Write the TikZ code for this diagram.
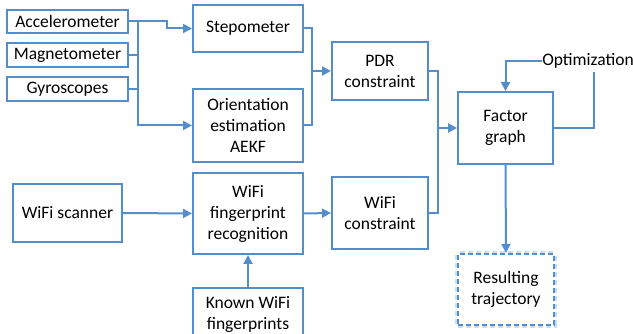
\documentclass[tikz,border=0pt]{standalone}
\usepackage{fontspec}
\setmainfont{Carlito}
\usetikzlibrary{arrows.meta}
\definecolor{boxblue}{RGB}{83,141,204}
\tikzset{
  block/.style={draw=boxblue, line width=2pt, fill=white, align=center,
    inner sep=0pt, font=\fontsize{17.5}{21}\selectfont},
  link/.style={draw=boxblue, line width=2pt},
  arr/.style={link, -{Triangle[length=9pt,width=9pt]}},
  glow/.style={preaction={draw=boxblue!30, line width=6pt}}
}
\begin{document}
\begin{tikzpicture}[x=1pt,y=-1pt]
      \clip (0,0) rectangle (633,334);
      \node[block, minimum width=121pt, minimum height=23pt] (acc) at (67.5,21.5) {Accelerometer};
      \node[block, minimum width=121pt, minimum height=24pt] (mag) at (67.5,55) {Magnetometer};
      \node[block, minimum width=121pt, minimum height=24pt] (gyr) at (67.5,89) {Gyroscopes};
      \node[block, minimum width=110pt, minimum height=47pt] (step) at (248,28.5) {Stepometer};
      \node[block, minimum width=110pt, minimum height=73pt] (orient) at (248,125.5) {Orientation\\estimation\\AEKF};
      \node[block, minimum width=96pt, minimum height=58pt] (pdr) at (380,71) {PDR\\constraint};
      \node[block, minimum width=95pt, minimum height=72pt] (fg) at (505.5,128) {Factor\\graph};
      \node[block, minimum width=109pt, minimum height=58pt] (scan) at (67.5,213) {WiFi scanner};
      \node[block, minimum width=110pt, minimum height=81pt] (recog) at (248,213.5) {WiFi\\fingerprint\\recognition};
      \node[block, minimum width=110pt, minimum height=52pt] (known) at (248,314) {Known WiFi\\fingerprints};
      \node[block, minimum width=96pt, minimum height=72pt] (wcon) at (380,213) {WiFi\\constraint};
      \node[block, glow, dash pattern=on 5pt off 3pt, minimum width=96pt, minimum height=71pt] (res) at (506,289.5) {Resulting\\trajectory};
      \node[font=\fontsize{17.5}{21}\selectfont, inner sep=0pt] (opt) at (588,61) {Optimization};
      \coordinate (bus) at (137.5,21.5);
      \coordinate (j1) at (312,71);
      \coordinate (j2) at (438,128);
      \coordinate (optin) at (594,72);
      \begin{scope}
        \draw[arr] (acc.east) -- ++(37.5,0) |- (step.west);
        \draw[arr] (bus) |- (orient.west);
        \draw[link] (mag.east) -- (mag.east -| bus);
        \draw[link] (gyr.east) -- (gyr.east -| bus);
        \draw[link] (step.east) -| (j1) |- (orient.east);
        \draw[arr] (j1) -- (pdr.west);
        \draw[link] (pdr.east) -| (j2) |- (wcon.east);
        \draw[arr] (j2) -- (fg.west);
        \draw[arr] (scan.east) -- (recog.west);
        \draw[arr] (recog.east) -- (wcon.west);
        \draw[arr] (known.north) -- (recog.south);
        \draw[link] (fg.east) -| (optin);
        \draw[arr] (opt.west) -| (fg.north);
        \draw[arr] (fg.south) -- (res.north);
      \end{scope}
    \end{tikzpicture}
\end{document}
